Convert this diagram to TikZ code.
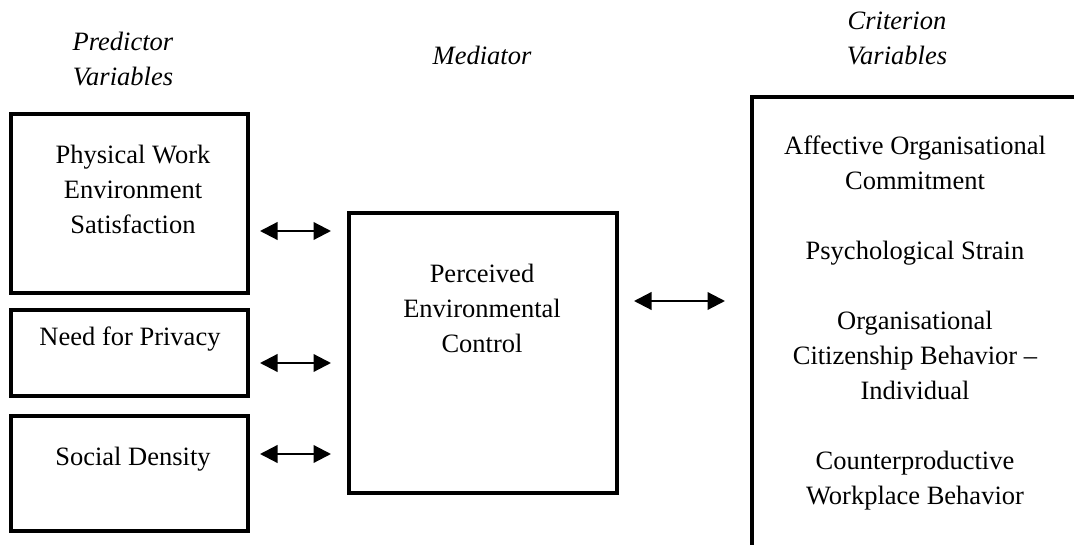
\documentclass[tikz,border=0pt]{standalone}
\usepackage{fontspec}
\setmainfont{Liberation Serif}
\usetikzlibrary{arrows.meta}
\begin{document}
\begin{tikzpicture}[x=0.4pt,y=-0.4pt,
  frame/.style={draw,line width=1.8pt,outer sep=0pt,inner sep=0pt},
  lbl/.style={align=center,inner sep=0pt,font=\fontsize{10.6}{14}\selectfont},
  hdr/.style={lbl,font=\fontsize{10.6}{14}\selectfont\itshape},
  link/.style={line width=0.9pt,{Triangle[length=7pt,width=7pt]}-{Triangle[length=7pt,width=7pt]}}]
\clip (0,0) rectangle (1074,545);
\useasboundingbox (0,0) rectangle (1074,545);
% headings
\node[hdr] (hpred) at (123,59) {Predictor\\Variables};
\node[hdr] (hmed) at (482,55) {Mediator};
\node[hdr] (hcrit) at (897,38) {Criterion\\Variables};
% predictor boxes
\node[frame,minimum width=94.8pt,minimum height=71.6pt] (phys) at (129.5,203.5) {};
\node[lbl] (physT) at (133,189.5) {Physical Work\\Environment\\Satisfaction};
\node[frame,minimum width=94.8pt,minimum height=34.4pt] (priv) at (129.5,353) {};
\node[lbl] (privT) at (130,339) {Need for Privacy};
\node[frame,minimum width=94.8pt,minimum height=46pt] (soc) at (129.5,473.5) {};
\node[lbl] (socT) at (133,459) {Social Density};
% mediator
\node[frame,minimum width=107.2pt,minimum height=112pt] (med) at (483,353) {};
\node[lbl] (medT) at (482,308) {Perceived\\Environmental\\Control};
% criterion
\node[frame,lbl,minimum width=130.4pt,minimum height=180.8pt] (crit) at (915,323)
  {Affective Organisational\\Commitment\\[14pt]Psychological Strain\\[14pt]Organisational\\Citizenship Behavior --\\Individual\\[14pt]Counterproductive\\Workplace Behavior};
% arrows
\coordinate (r1) at (0,231);
\coordinate (r2) at (0,363);
\coordinate (r3) at (0,454);
\coordinate (r4) at (0,301);
\draw[link,shorten <=4.8pt,shorten >=7.2pt] (phys.east |- r1) -- (med.west |- r1);
\draw[link,shorten <=4.8pt,shorten >=7.2pt] (priv.east |- r2) -- (med.west |- r2);
\draw[link,shorten <=4.8pt,shorten >=7.2pt] (soc.east |- r3) -- (med.west |- r3);
\draw[link,shorten <=6.8pt,shorten >=10.8pt] (med.east |- r4) -- (crit.west |- r4);
\end{tikzpicture}
\end{document}
